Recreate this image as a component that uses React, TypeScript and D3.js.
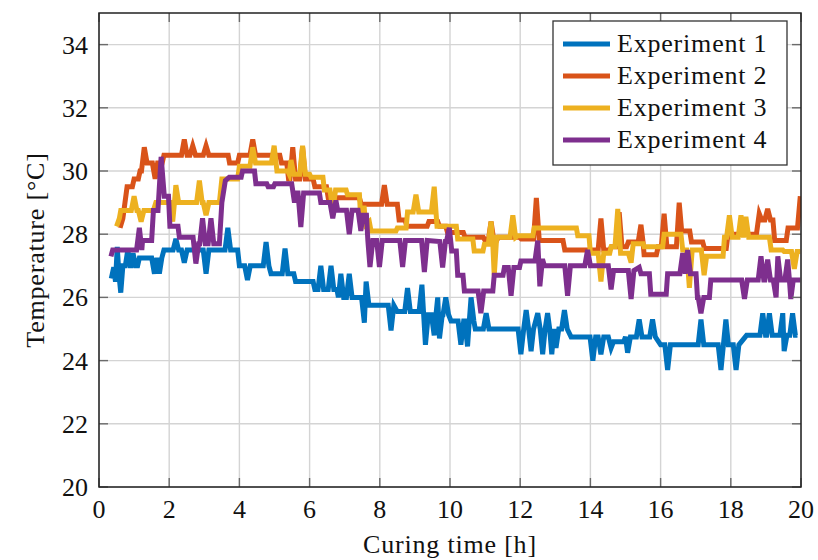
import React from "react";
import * as d3 from "d3";

// values (time in h, temperature in °C)
const exp1: [number, number][] = [
  [0.35, 26.6], [0.42, 26.95], [0.47, 26.5], [0.52, 27.6], [0.57, 26.7], [0.62, 26.15], [0.68, 27.0],
  [0.75, 27.0], [0.82, 27.5], [0.89, 27.0], [0.91, 27.0], [0.97, 27.4], [1.04, 27.0], [1.1, 27.0], [1.15, 27.25],
  [1.5, 27.25], [1.58, 26.75], [1.65, 27.25], [1.72, 26.75], [1.79, 27.25], [1.85, 27.5],
  [2.11, 27.5], [2.19, 27.85], [2.27, 27.5], [2.35, 27.5], [2.43, 27.1], [2.51, 27.5], [2.97, 27.5], [3.05, 26.75], [3.13, 27.5],
  [3.59, 27.5], [3.67, 28.2], [3.75, 27.5], [3.95, 27.5], [4.0, 27.0], [4.15, 27.0], [4.23, 26.55], [4.31, 27.0],
  [4.68, 27.0], [4.76, 27.75], [4.84, 27.0], [4.9, 26.75], [5.22, 26.75], [5.3, 27.55], [5.38, 26.75], [5.55, 26.75], [5.6, 26.5],
  [6.1, 26.5], [6.15, 26.25], [6.24, 26.25], [6.32, 27.0], [6.4, 26.25], [6.53, 26.25], [6.61, 27.0], [6.69, 26.25], [6.78, 26.25],
  [6.82, 26.0], [6.89, 26.75], [6.97, 26.0], [7.05, 26.0], [7.13, 26.75], [7.21, 26.0], [7.48, 26.0], [7.56, 25.2], [7.61, 26.5], [7.69, 25.75],
  [8.24, 25.75], [8.32, 24.95], [8.4, 25.75], [8.5, 25.55], [8.71, 25.55], [8.79, 26.3], [8.87, 25.55], [9.12, 25.55], [9.2, 26.4],
  [9.25, 25.45], [9.3, 24.5], [9.38, 25.45],
  [9.47, 25.45], [9.55, 24.8], [9.6, 25.45], [9.65, 26.0], [9.7, 24.7], [9.78, 25.45], [9.8, 25.45], [9.88, 26.0], [9.96, 25.45], [10.03, 25.25],
  [10.23, 25.25], [10.31, 24.5], [10.39, 25.25], [10.42, 25.25], [10.5, 24.45], [10.55, 25.25], [10.6, 26.0], [10.68, 25.25], [10.72, 25.0],
  [10.95, 25.0], [11.03, 25.5], [11.11, 25.0], [11.94, 25.0], [12.02, 24.2], [12.1, 25.0], [12.17, 25.6], [12.24, 25.0], [12.31, 24.3],
  [12.38, 25.0], [12.5, 25.5], [12.57, 25.0], [12.64, 24.2], [12.71, 25.0], [12.78, 25.5], [12.84, 25.0], [12.9, 24.2], [12.96, 25.0],
  [13.02, 24.4], [13.1, 25.0], [13.18, 25.0], [13.26, 25.6], [13.34, 25.0], [13.45, 24.75],
  [13.99, 24.75], [14.07, 24.0], [14.15, 24.75], [14.22, 24.75], [14.3, 24.2], [14.38, 24.75], [14.51, 24.75], [14.59, 24.4], [14.66, 24.6],
  [14.95, 24.6], [15.0, 24.75], [15.06, 24.25], [15.14, 24.75], [15.31, 24.75], [15.39, 25.3], [15.47, 24.75], [15.69, 24.75], [15.77, 25.3],
  [15.85, 24.75], [16.0, 24.5],
  [16.12, 24.5], [16.2, 23.7], [16.28, 24.5], [17.07, 24.5], [17.15, 25.3], [17.23, 24.5], [17.64, 24.5], [17.72, 23.7], [17.79, 24.5],
  [17.86, 25.3], [17.93, 24.5], [18.07, 24.5], [18.15, 23.7], [18.23, 24.5], [18.45, 24.8],
  [18.83, 24.8], [18.91, 25.5], [18.99, 24.8], [19.02, 24.8], [19.1, 25.5], [19.18, 24.8], [19.4, 24.8], [19.48, 25.5], [19.52, 24.3],
  [19.6, 24.8], [19.68, 24.8], [19.76, 25.5], [19.84, 24.8], [19.9, 24.8],
];

const exp2: [number, number][] = [
  [0.6, 28.2], [0.68, 28.5], [0.74, 29.0], [0.8, 29.5], [0.95, 29.5], [1.0, 29.75], [1.12, 29.75], [1.17, 30.0], [1.21, 30.0], [1.29, 30.75],
  [1.37, 30.25], [1.52, 30.25], [1.6, 29.75], [1.67, 30.25], [1.8, 30.25], [1.85, 30.5],
  [2.35, 30.5], [2.43, 31.0], [2.51, 30.5], [2.59, 30.5], [2.67, 30.8], [2.75, 30.5], [2.97, 30.5], [3.05, 30.8], [3.13, 30.5], [3.68, 30.5],
  [3.72, 30.25], [3.95, 30.25], [4.0, 30.5], [4.3, 30.5], [4.38, 31.0], [4.46, 30.5],
  [5.15, 30.5], [5.2, 30.25], [5.35, 30.25], [5.4, 29.75], [5.44, 29.75], [5.52, 30.75], [5.6, 29.75], [5.72, 29.75], [5.8, 30.75], [5.88, 29.75],
  [6.1, 29.75], [6.15, 29.5], [6.48, 29.5], [6.53, 29.15],
  [7.42, 29.15], [7.47, 28.95], [8.05, 28.95], [8.13, 29.55], [8.21, 28.95], [8.5, 28.95], [8.55, 28.45], [8.72, 28.45], [8.77, 28.25],
  [9.35, 28.25], [9.4, 28.4], [9.65, 28.4], [9.7, 28.25], [9.88, 28.25], [9.93, 28.05],
  [10.38, 28.05], [10.43, 27.9], [10.95, 27.9], [11.0, 27.8], [11.09, 27.8], [11.17, 28.4], [11.25, 27.8], [11.33, 27.8], [11.38, 27.9],
  [11.98, 27.9], [12.03, 27.85], [12.38, 27.85], [12.46, 29.15], [12.54, 27.85], [12.6, 27.8],
  [13.22, 27.8], [13.27, 27.5], [14.22, 27.5], [14.3, 28.5], [14.38, 27.5], [14.55, 27.5], [14.6, 27.6], [14.74, 27.6], [14.82, 28.7],
  [14.9, 27.6], [15.03, 27.6], [15.08, 27.75], [15.36, 27.75], [15.44, 28.3], [15.5, 27.75], [15.53, 27.35],
  [15.88, 27.35], [15.93, 27.6], [16.02, 27.6], [16.1, 28.65], [16.18, 27.6], [16.45, 27.6], [16.53, 29.0], [16.6, 28.1], [16.83, 28.1],
  [16.88, 27.75], [17.2, 27.75], [17.25, 27.55], [17.87, 27.55], [17.92, 28.0],
  [18.73, 28.0], [18.81, 28.65], [18.88, 28.45], [18.97, 28.45], [19.05, 28.8], [19.13, 28.45], [19.2, 28.45], [19.25, 27.8], [19.58, 27.8],
  [19.63, 28.2], [19.9, 28.2], [19.98, 29.2],
];

const exp3: [number, number][] = [
  [0.5, 28.25], [0.58, 28.5], [0.62, 28.75], [0.92, 28.75], [1.0, 29.2], [1.08, 28.75], [1.12, 28.75], [1.2, 28.4], [1.28, 28.75],
  [1.55, 28.75], [1.62, 29.0], [2.02, 29.0], [2.1, 28.4], [2.15, 29.0], [2.19, 29.55], [2.27, 29.0],
  [2.78, 29.0], [2.86, 29.7], [2.94, 29.0], [2.97, 29.0], [3.05, 28.6], [3.13, 29.0], [3.43, 29.0], [3.5, 29.75], [3.95, 29.75], [4.0, 30.15],
  [4.3, 30.15], [4.38, 30.75], [4.46, 30.25],
  [4.91, 30.25], [4.99, 30.8], [5.07, 30.0], [5.38, 30.0], [5.42, 29.9], [5.47, 30.35], [5.55, 29.9], [5.72, 29.9], [5.8, 30.8], [5.88, 29.9],
  [6.0, 29.9], [6.04, 29.8], [6.38, 29.8], [6.42, 29.4], [6.58, 29.4], [6.66, 28.75], [6.74, 29.4],
  [7.04, 29.4], [7.08, 29.25], [7.42, 29.25], [7.46, 28.4], [7.55, 28.9], [7.6, 28.3], [7.7, 28.4], [7.75, 28.1], [8.46, 28.1], [8.5, 28.2],
  [8.75, 28.2], [8.79, 28.7], [8.95, 28.7], [9.03, 29.25], [9.11, 28.7], [9.47, 28.7], [9.55, 29.5], [9.63, 28.25],
  [10.18, 28.25], [10.22, 27.85], [10.65, 27.85], [10.69, 27.47], [10.94, 27.47], [10.98, 27.68], [11.09, 27.68], [11.17, 28.4], [11.22, 27.68],
  [11.26, 26.7], [11.33, 27.9], [11.71, 27.9], [11.79, 28.6], [11.87, 27.9], [11.93, 27.95], [12.36, 27.95], [12.4, 28.2],
  [13.6, 28.2], [13.64, 27.95], [13.96, 27.95], [14.0, 27.4], [14.22, 27.4], [14.3, 26.5], [14.38, 27.4], [14.55, 27.4], [14.59, 27.6],
  [14.7, 27.6], [14.78, 28.8], [14.86, 27.4], [15.08, 27.4], [15.16, 27.1], [15.22, 27.7], [15.5, 27.7], [15.53, 27.6],
  [16.06, 27.6], [16.1, 28.0], [16.58, 28.0], [16.63, 27.5], [16.74, 27.5], [16.82, 26.3], [16.9, 27.5], [17.16, 27.5], [17.24, 26.7],
  [17.31, 27.3], [17.78, 27.3], [17.82, 27.9], [17.88, 27.9], [17.96, 28.6], [18.04, 27.9], [18.21, 27.9], [18.29, 28.6], [18.36, 27.9],
  [18.43, 28.55], [18.51, 27.9], [19.1, 27.9], [19.15, 27.5], [19.48, 27.5], [19.52, 27.45], [19.73, 27.45], [19.81, 26.9], [19.89, 27.45],
  [19.98, 27.45],
];

const exp4: [number, number][] = [
  [0.34, 27.3], [0.39, 27.5], [1.07, 27.5], [1.15, 28.2], [1.22, 27.5], [1.24, 27.8], [1.5, 27.8], [1.55, 28.75], [1.68, 28.75], [1.77, 30.45],
  [1.86, 29.2], [1.98, 29.2], [2.02, 28.25], [2.25, 28.25], [2.29, 27.9], [2.68, 27.9], [2.76, 27.07], [2.84, 27.7],
  [2.87, 27.7], [2.95, 28.5], [3.03, 27.7], [3.11, 27.7], [3.19, 28.5], [3.27, 27.7], [3.43, 27.7], [3.5, 29.0], [3.6, 29.7], [3.71, 29.8],
  [4.05, 29.8], [4.09, 30.0], [4.43, 30.0], [4.47, 29.6], [4.78, 29.6], [4.82, 29.5], [4.97, 29.5], [5.01, 29.6], [5.49, 29.6], [5.57, 29.0],
  [5.62, 29.3], [5.67, 29.3], [5.75, 28.23], [5.83, 29.3], [6.28, 29.3], [6.32, 29.0], [6.58, 29.0], [6.66, 28.5], [6.74, 29.0], [6.76, 29.0],
  [6.8, 28.76], [7.05, 28.76], [7.13, 28.0], [7.21, 28.76], [7.38, 28.76], [7.46, 28.1], [7.52, 28.6], [7.62, 28.6], [7.66, 27.8], [7.72, 26.96],
  [7.8, 27.8], [7.91, 27.8], [7.99, 26.96], [8.07, 27.8], [8.57, 27.8], [8.65, 26.96], [8.73, 27.8], [9.19, 27.8], [9.27, 26.8], [9.35, 27.8],
  [9.71, 27.77], [9.79, 26.95], [9.87, 27.77], [9.9, 27.77], [9.98, 28.2], [10.05, 27.47], [10.18, 27.47], [10.22, 26.7], [10.37, 26.7],
  [10.41, 26.2], [10.8, 26.2], [10.88, 25.5], [10.96, 26.2], [11.22, 26.2], [11.26, 26.7], [11.51, 26.7], [11.55, 26.95], [11.66, 26.95],
  [11.74, 26.05], [11.82, 26.95], [11.98, 26.95], [12.02, 27.15], [12.42, 27.15], [12.5, 27.8], [12.56, 26.35], [12.63, 27.15], [12.65, 27.15],
  [12.69, 27.0], [13.27, 27.0], [13.35, 26.05], [13.43, 27.0], [13.84, 27.0], [13.92, 27.5], [14.0, 27.0], [14.51, 27.0], [14.59, 26.25],
  [14.66, 26.85], [15.08, 26.85], [15.16, 25.95], [15.24, 26.85], [15.39, 26.95], [15.44, 26.75], [15.68, 26.75], [15.72, 26.1], [16.16, 26.1],
  [16.2, 26.75], [16.55, 26.75], [16.63, 27.4], [16.7, 26.75], [16.77, 27.5], [16.85, 26.75], [17.01, 26.75], [17.05, 26.0], [17.07, 26.0],
  [17.15, 25.5], [17.23, 26.0], [17.39, 26.0], [17.43, 26.55], [18.31, 26.55], [18.39, 25.95], [18.47, 26.55], [18.78, 26.55], [18.86, 27.3],
  [18.94, 26.55], [18.97, 26.55], [19.05, 27.2], [19.13, 26.55], [19.21, 26.55], [19.29, 26.0], [19.34, 27.3], [19.42, 26.55], [19.54, 26.55],
  [19.62, 27.2], [19.67, 26.55], [19.71, 25.95], [19.78, 26.55], [19.98, 26.55],
];

const seriesNames = ["Experiment 1", "Experiment 2", "Experiment 3", "Experiment 4"];
const seriesColors = ["#0072BD", "#D95319", "#EDB120", "#7E2F8E"];
const xTicks = [0, 2, 4, 6, 8, 10, 12, 14, 16, 18, 20];
const yTicks = [20, 22, 24, 26, 28, 30, 32, 34];

const W = 818;
const H = 560;
const margin = { top: 13, right: 17, bottom: 73, left: 99 };
const font = "'Liberation Serif', 'DejaVu Serif', serif";

export default function App() {
  const x = d3.scaleLinear().domain([0, 20]).range([margin.left, W - margin.right]);
  const y = d3.scaleLinear().domain([20, 35]).range([H - margin.bottom, margin.top]);
  const line = d3
    .line<[number, number]>()
    .x((d) => x(d[0]))
    .y((d) => y(d[1]));

  const series = [exp1, exp2, exp3, exp4];
  const [x0, x1] = x.range();
  const [y0, y1] = y.range();
  const tickLen = 9;
  const txt = { fontFamily: font };

  // legend box
  const lg = { x: 553, y: 21, w: 234, h: 144, row: 32 };

  return (
    <svg width={W} height={H} style={{ position: "absolute", left: 0, top: 0, background: "#fff" }}>
      <defs>
        <clipPath id="plot">
          <rect x={x0} y={y1} width={x1 - x0} height={y0 - y1} />
        </clipPath>
      </defs>

      {/* grid */}
      <g stroke="#d4d4d4" strokeWidth={1.4}>
        {xTicks.map((t) => (
          <line key={"gx" + t} x1={x(t)} x2={x(t)} y1={y1} y2={y0} />
        ))}
        {yTicks.map((t) => (
          <line key={"gy" + t} x1={x0} x2={x1} y1={y(t)} y2={y(t)} />
        ))}
      </g>

      {/* data */}
      <g clipPath="url(#plot)" fill="none" strokeWidth={5} strokeLinejoin="miter" strokeMiterlimit={4}>
        {series.map((s, i) => (
          <path key={i} d={line(s) || ""} stroke={seriesColors[i]} />
        ))}
      </g>

      {/* ticks */}
      <g stroke="#6b6b6b" strokeWidth={1.4}>
        {xTicks.map((t) => (
          <g key={"tx" + t}>
            <line x1={x(t)} x2={x(t)} y1={y0} y2={y0 - tickLen} />
            <line x1={x(t)} x2={x(t)} y1={y1} y2={y1 + tickLen} />
          </g>
        ))}
        {yTicks.map((t) => (
          <g key={"ty" + t}>
            <line x1={x0} x2={x0 + tickLen} y1={y(t)} y2={y(t)} />
            <line x1={x1} x2={x1 - tickLen} y1={y(t)} y2={y(t)} />
          </g>
        ))}
      </g>

      {/* frame */}
      <rect x={x0} y={y1} width={x1 - x0} height={y0 - y1} fill="none" stroke="#222" strokeWidth={1.5} />

      {/* tick labels */}
      <g fontSize={26} fill="#111" style={txt}>
        {xTicks.map((t) => (
          <text key={"lx" + t} x={x(t)} y={y0 + 31} textAnchor="middle" style={txt}>
            {t}
          </text>
        ))}
        {yTicks.map((t) => (
          <text key={"ly" + t} x={x0 - 11} y={y(t) + 9} textAnchor="end" style={txt}>
            {t}
          </text>
        ))}
      </g>

      {/* axis titles */}
      <text x={(x0 + x1) / 2} y={553} textAnchor="middle" fontSize={26} letterSpacing={0.8} fill="#111" style={txt}>
        Curing time [h]
      </text>
      <text
        x={44}
        y={(y0 + y1) / 2}
        textAnchor="middle"
        fontSize={26}
        letterSpacing={0.8}
        fill="#111"
        style={txt}
        transform={`rotate(-90, 44, ${(y0 + y1) / 2})`}
      >
        Temperature [°C]
      </text>

      {/* legend */}
      <rect x={lg.x} y={lg.y} width={lg.w} height={lg.h} fill="#fff" stroke="#333" strokeWidth={1.3} />
      {seriesNames.map((n, i) => {
        const cy = lg.y + 23 + i * lg.row;
        return (
          <g key={n}>
            <line x1={lg.x + 10} x2={lg.x + 57} y1={cy} y2={cy} stroke={seriesColors[i]} strokeWidth={5} />
            <text x={lg.x + 64} y={cy + 8} fontSize={26} letterSpacing={0.8} fill="#111" style={txt}>
              {n}
            </text>
          </g>
        );
      })}
    </svg>
  );
}
